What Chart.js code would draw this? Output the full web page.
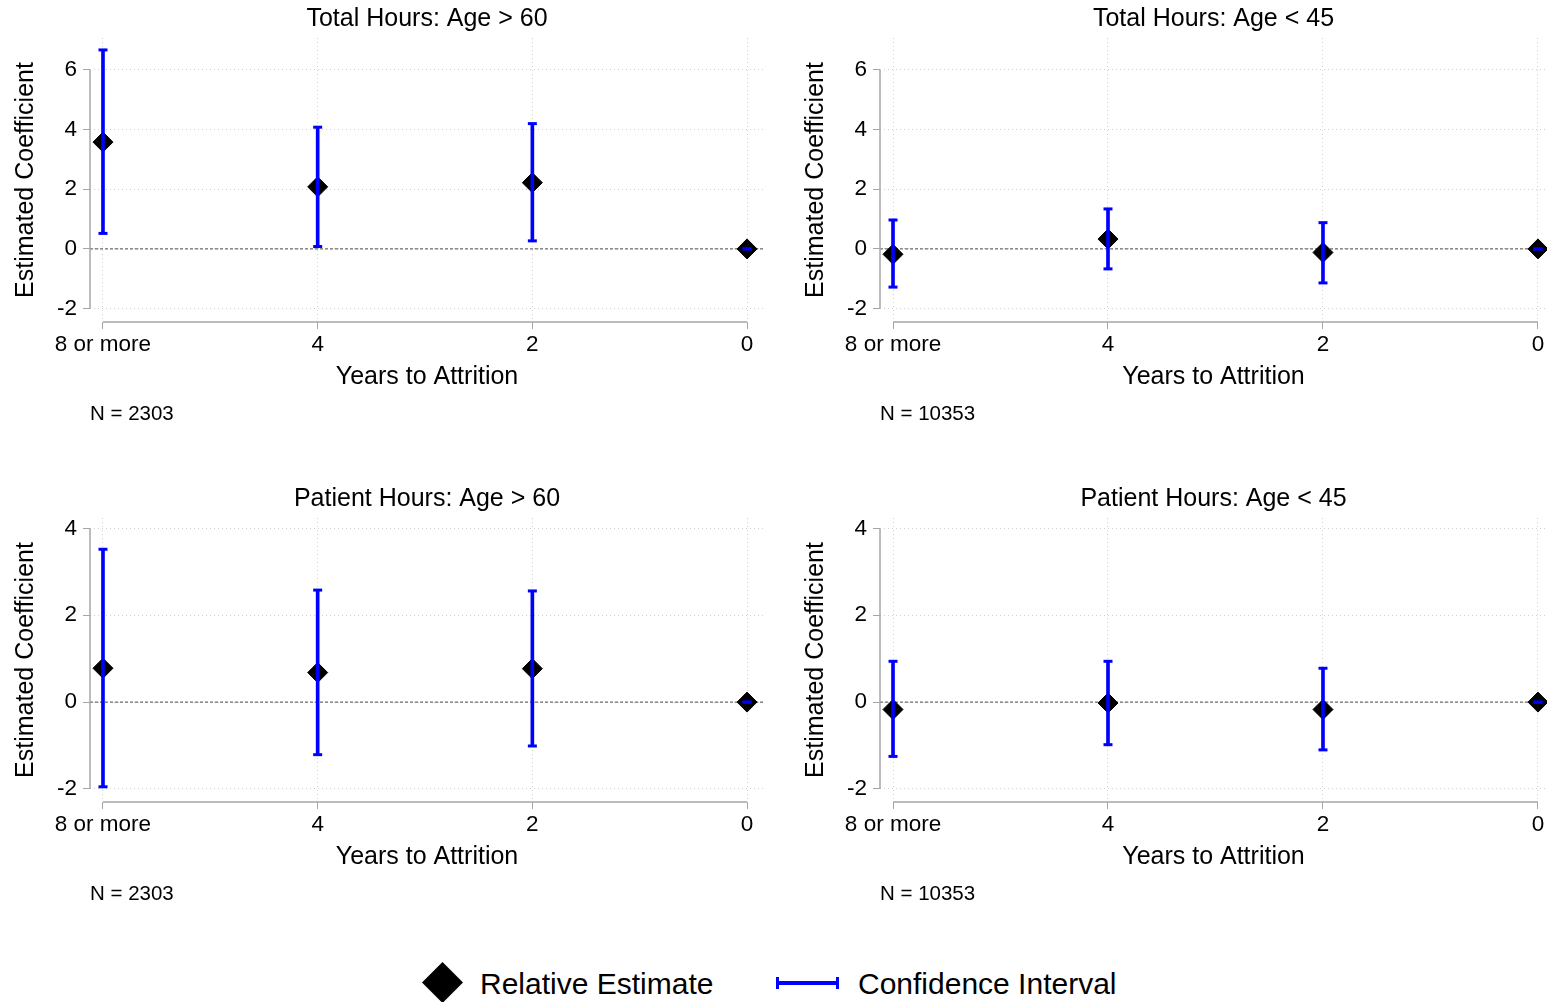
<!DOCTYPE html>
<html>
<head>
<meta charset="utf-8">
<script src="https://cdn.jsdelivr.net/npm/chart.js@4.4.1/dist/chart.umd.min.js"></script>
<style>
  html, body { margin: 0; background: #fff; overflow: hidden; font-family: "Liberation Sans", Arial, sans-serif; }
  .panel { position: absolute; }
  .diamond { position: absolute; left: 428px; top: 968px; width: 29px; height: 29px; background: #000; transform: rotate(45deg); }
  .ciLine { position: absolute; left: 778px; top: 981px; width: 60px; height: 4px; background: #0000ff; }
  .ciCap { position: absolute; top: 977px; width: 3px; height: 12px; background: #0000ff; }
  .legText { position: absolute; top: 966px; font-size: 30px; line-height: 36px; color: #000; }
</style>
</head>
<body>
<canvas id="c1" class="panel" style="left:0px;top:0px"></canvas>
<canvas id="c2" class="panel" style="left:790px;top:0px"></canvas>
<canvas id="c3" class="panel" style="left:0px;top:480px"></canvas>
<canvas id="c4" class="panel" style="left:790px;top:480px"></canvas>

<div class="diamond"></div>
<div class="legText" style="left:480px">Relative Estimate</div>
<div class="ciLine"></div>
<div class="ciCap" style="left:776px"></div>
<div class="ciCap" style="left:836px"></div>
<div class="legText" style="left:858px">Confidence Interval</div>

<script>
// categories along x (shown left to right)
const years = ["8 or more", "4", "2", "0"];

// Total hours, age > 60
const totOldEst = [3.58, 2.08, 2.22, 0];
const totOldLo  = [0.52, 0.08, 0.27, 0];
const totOldHi  = [6.67, 4.08, 4.20, 0];

// Total hours, age < 45
const totYoungEst = [-0.18, 0.33, -0.12, 0];
const totYoungLo  = [-1.28, -0.67, -1.14, 0];
const totYoungHi  = [0.97, 1.34, 0.88, 0];

// Patient hours, age > 60
const patOldEst = [0.78, 0.68, 0.77, 0];
const patOldLo  = [-1.95, -1.21, -1.01, 0];
const patOldHi  = [3.52, 2.58, 2.56, 0];

// Patient hours, age < 45
const patYoungEst = [-0.17, -0.02, -0.17, 0];
const patYoungLo  = [-1.25, -0.98, -1.10, 0];
const patYoungHi  = [0.94, 0.94, 0.78, 0];

const topTicks = [-2, 0, 2, 4, 6];
const bottomTicks = [-2, 0, 2, 4];

const FONT = "'Liberation Sans', Arial, sans-serif";

// draws the stata-like axis lines and the dashed zero line
const axisPlugin = {
    id: 'axisLines',
    beforeDatasetsDraw(chart) {
        const ctx = chart.ctx;
        const x = chart.scales.x, y = chart.scales.y;
        const a = chart.chartArea;
        const ticks = chart.options.plugins.axisLines.ticks;
        ctx.save();
        // zero reference line
        ctx.strokeStyle = '#6e6e6e';
        ctx.lineWidth = 1.2;
        ctx.setLineDash([3, 2]);
        ctx.beginPath();
        ctx.moveTo(a.left, y.getPixelForValue(0));
        ctx.lineTo(a.right, y.getPixelForValue(0));
        ctx.stroke();
        ctx.setLineDash([]);
        ctx.strokeStyle = '#a6a6a6';
        ctx.lineWidth = 1.5;
        // y axis
        ctx.beginPath();
        ctx.moveTo(a.left, y.getPixelForValue(ticks[0]));
        ctx.lineTo(a.left, y.getPixelForValue(ticks[ticks.length - 1]));
        ctx.stroke();
        // x axis
        ctx.beginPath();
        ctx.moveTo(x.getPixelForValue(0), a.bottom);
        ctx.lineTo(x.getPixelForValue(years.length - 1), a.bottom);
        ctx.stroke();
        ctx.restore();
    }
};

function makePanel(id, title, n, est, lo, hi, ticks, yMin, yMax, xMax, padRight) {
    const idx = years.map((c, i) => i);
    new Chart(document.getElementById(id), {
        type: 'scatter',
        data: {
            datasets: [
                {
                    type: 'scatter',
                    label: 'Relative Estimate',
                    data: idx.map(i => ({ x: i, y: est[i] })),
                    pointStyle: 'rectRot',
                    pointRadius: 10,
                    backgroundColor: '#000',
                    borderColor: '#000',
                    borderWidth: 1,
                    order: 3
                },
                {
                    type: 'bar',
                    label: 'Confidence Interval',
                    data: idx.map(i => ({ x: i, y: [lo[i], hi[i]] })),
                    backgroundColor: '#0000ff',
                    borderWidth: 0,
                    barThickness: 3,
                    order: 2
                },
                {
                    type: 'scatter',
                    label: 'caps',
                    data: idx.map(i => ({ x: i, y: lo[i] })).concat(idx.map(i => ({ x: i, y: hi[i] }))),
                    pointStyle: 'line',
                    pointRadius: 4.5,
                    borderColor: '#0000ff',
                    borderWidth: 3,
                    order: 1
                }
            ]
        },
        options: {
            responsive: false,
            animation: false,
            layout: { padding: { left: 0, right: padRight, top: 0, bottom: 0 } },
            plugins: {
                legend: { display: false },
                tooltip: { enabled: false },
                axisLines: { ticks: ticks },
                title: {
                    display: true,
                    text: title,
                    fullSize: false,
                    color: '#000',
                    font: { family: FONT, size: 25, weight: 'normal' },
                    padding: { top: 4, bottom: 4 }
                },
                subtitle: {
                    display: true,
                    text: n,
                    position: 'bottom',
                    align: 'start',
                    fullSize: false,
                    color: '#000',
                    font: { family: FONT, size: 20.5 },
                    padding: { top: 10, bottom: 13.4 }
                }
            },
            scales: {
                x: {
                    type: 'linear',
                    min: -0.0605,
                    max: xMax,
                    offset: false,
                    afterBuildTicks: s => { s.ticks = idx.map(v => ({ value: v })); },
                    afterFit: s => { s.height = 70; },
                    ticks: {
                        color: '#000',
                        font: { family: FONT, size: 22.5 },
                        padding: 2,
                        maxRotation: 0,
                        callback: v => years[v]
                    },
                    grid: {
                        offset: false,
                        color: '#d0d0d0',
                        tickColor: '#a6a6a6',
                        tickLength: 7,
                        drawTicks: true
                    },
                    border: { display: false, dash: [1, 3] },
                    title: {
                        display: true,
                        text: 'Years to Attrition',
                        color: '#000',
                        font: { family: FONT, size: 25 },
                        padding: { top: 0, bottom: 0 }
                    }
                },
                y: {
                    min: yMin,
                    max: yMax,
                    afterBuildTicks: s => { s.ticks = ticks.map(v => ({ value: v })); },
                    afterFit: s => { s.width = 90; },
                    ticks: {
                        color: '#000',
                        font: { family: FONT, size: 22.5 },
                        padding: 6
                    },
                    grid: {
                        color: '#d0d0d0',
                        tickColor: '#a6a6a6',
                        tickLength: 7,
                        drawTicks: true
                    },
                    border: { display: false, dash: [1, 3] },
                    title: {
                        display: true,
                        text: 'Estimated Coefficient',
                        color: '#000',
                        font: { family: FONT, size: 25 },
                        padding: { top: 11, bottom: 11 }
                    }
                }
            }
        },
        plugins: [axisPlugin]
    });
}

// canvas sizes
['c1', 'c2', 'c3', 'c4'].forEach(id => {
    const c = document.getElementById(id);
    c.width = 775; c.height = 440;
    c.style.width = '775px'; c.style.height = '440px';
});

makePanel('c1', 'Total Hours: Age > 60', 'N = 2303', totOldEst, totOldLo, totOldHi, topTicks, -2.45, 7.07, 3.079, 10);
makePanel('c2', 'Total Hours: Age < 45', 'N = 10353', totYoungEst, totYoungLo, totYoungHi, topTicks, -2.45, 7.07, 3.042, 18);
makePanel('c3', 'Patient Hours: Age > 60', 'N = 2303', patOldEst, patOldLo, patOldHi, bottomTicks, -2.30, 4.24, 3.079, 10);
makePanel('c4', 'Patient Hours: Age < 45', 'N = 10353', patYoungEst, patYoungLo, patYoungHi, bottomTicks, -2.30, 4.24, 3.042, 18);
</script>
</body>
</html>
